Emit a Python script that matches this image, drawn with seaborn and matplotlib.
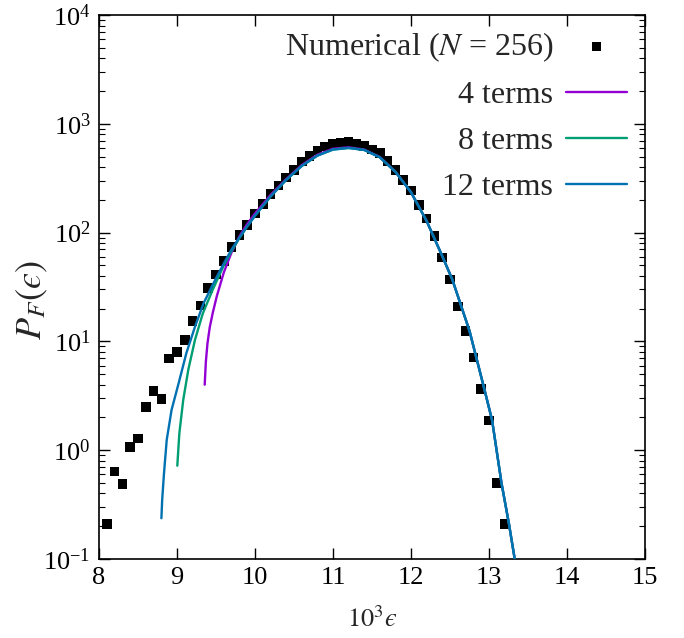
import numpy as np
import pandas as pd
import matplotlib
matplotlib.use("Agg")
import matplotlib.pyplot as plt
import seaborn as sns

# Numerical data (N = 256)
eps_num = [8.1, 8.2, 8.3, 8.4, 8.5, 8.6, 8.7, 8.8, 8.9, 9.0,
           9.1, 9.2, 9.3, 9.4, 9.5, 9.6, 9.7, 9.8, 9.9, 10.0,
           10.1, 10.2, 10.3, 10.4, 10.5, 10.6, 10.7, 10.8, 10.9, 11.0,
           11.1, 11.2, 11.3, 11.4, 11.5, 11.6, 11.7, 11.8, 11.9, 12.0,
           12.1, 12.2, 12.3, 12.4, 12.5, 12.6, 12.7, 12.8, 12.9, 13.0,
           13.1, 13.2]
p_num = [0.21, 0.64, 0.49, 1.07, 1.28, 2.5, 3.5, 2.95, 7.0, 8.0,
         10.3, 15.4, 21.5, 31, 41, 55, 74, 95, 117, 150,
         183, 226, 272, 322, 376, 449, 506, 566, 616, 655,
         675, 680, 660, 625, 580, 540, 455, 375, 305, 245,
         180, 134, 93, 59, 37, 21, 12.5, 7.1, 3.65, 1.88,
         0.50, 0.21]

# 4-term expansion
eps_4 = [9.355, 9.37, 9.39, 9.42, 9.46, 9.51, 9.6, 9.7, 9.8, 9.9, 10.0,
         10.2, 10.4, 10.6, 10.8, 11.0, 11.2, 11.4, 11.6, 11.8, 12.0,
         12.2, 12.4, 12.53, 12.75, 12.94, 13.04, 13.16, 13.256, 13.34]
p_4 = [4.0, 6.5, 9.5, 13.5, 18.5, 26, 43, 66, 92, 120, 150,
       222, 310, 418, 520, 590, 608, 580, 495, 362, 235,
       128, 61, 37, 12.5, 3.65, 1.88, 0.50, 0.21, 0.09]

# 8-term expansion
eps_8 = [9.004, 9.03, 9.08, 9.145, 9.23, 9.33, 9.45, 9.6, 9.7, 9.8, 9.9, 10.0,
         10.2, 10.4, 10.6, 10.8, 11.0, 11.2, 11.4, 11.6, 11.8, 12.0,
         12.2, 12.4, 12.53, 12.75, 12.94, 13.04, 13.16, 13.256, 13.34]
p_8 = [0.72, 1.43, 2.9, 5.5, 10.3, 18, 29, 50, 68, 89, 114, 143,
       215, 305, 410, 510, 580, 600, 575, 492, 362, 235,
       128, 61, 37, 12.5, 3.65, 1.88, 0.50, 0.21, 0.09]

# 12-term expansion
eps_12 = [8.80, 8.81, 8.833, 8.868, 8.93, 9.02, 9.12, 9.23, 9.34, 9.5, 9.6, 9.7,
          9.8, 9.9, 10.0, 10.2, 10.4, 10.6, 10.8, 11.0, 11.2, 11.4, 11.6, 11.8,
          12.0, 12.2, 12.4, 12.53, 12.75, 12.94, 13.04, 13.16, 13.256, 13.34]
p_12 = [0.237, 0.35, 0.61, 1.24, 2.34, 4.1, 7.8, 13.6, 22.4, 38, 52, 70,
        90, 114, 143, 215, 305, 410, 510, 580, 600, 575, 492, 362,
        235, 128, 61, 37, 12.5, 3.65, 1.88, 0.50, 0.21, 0.09]

labels = ["Numerical ($N$ = 256)", "4 terms", "8 terms", "12 terms"]
colors = ["#9400D3", "#009E73", "#0072B2"]

sns.set_theme(style="ticks")
plt.rcParams["font.family"] = ["Liberation Serif", "DejaVu Serif"]
plt.rcParams["mathtext.fontset"] = "stix"

fig, ax = plt.subplots(figsize=(6.84, 6.38), dpi=100)
fig.subplots_adjust(left=99/684, right=645/684, bottom=1-559/638, top=1-15/638)

sns.scatterplot(x=eps_num, y=p_num, marker="s", color="black", s=46,
                edgecolor="none", linewidth=0, ax=ax, label=labels[0], zorder=3)
for xs, ys, c, lab in zip([eps_4, eps_8, eps_12], [p_4, p_8, p_12], colors, labels[1:]):
    df = pd.DataFrame({"x": xs, "y": ys})
    sns.lineplot(data=df, x="x", y="y", color=c, linewidth=1.7, estimator=None,
                 sort=False, ax=ax, label=lab, zorder=4)

ax.set_yscale("log")
ax.set_xlim(8, 15)
ax.set_ylim(0.1, 1e4)
ax.set_xticks(range(8, 16))
ax.set_xticklabels([str(v) for v in range(8, 16)])

ax.tick_params(which="both", direction="in", top=True, right=True, colors="black")
ax.tick_params(which="major", length=8, width=1.0, labelsize=19, pad=6)
ax.tick_params(which="minor", length=4, width=0.8)
for s in ax.spines.values():
    s.set_linewidth(1.2)
    s.set_color("black")

ax.set_xlabel("$10^3\u03f5$", fontsize=19, labelpad=12)
ax.set_ylabel("$P_F(\u03f5)$", fontsize=26)
ax.yaxis.set_label_coords(-0.09, 0.475)

leg = ax.legend(loc="upper right", frameon=False, markerfirst=False, fontsize=23,
                handlelength=1.9, labelspacing=0.53, borderaxespad=0.0,
                handletextpad=0.4, bbox_to_anchor=(0.99, 0.996))

fig.savefig("out.png", dpi=100)
